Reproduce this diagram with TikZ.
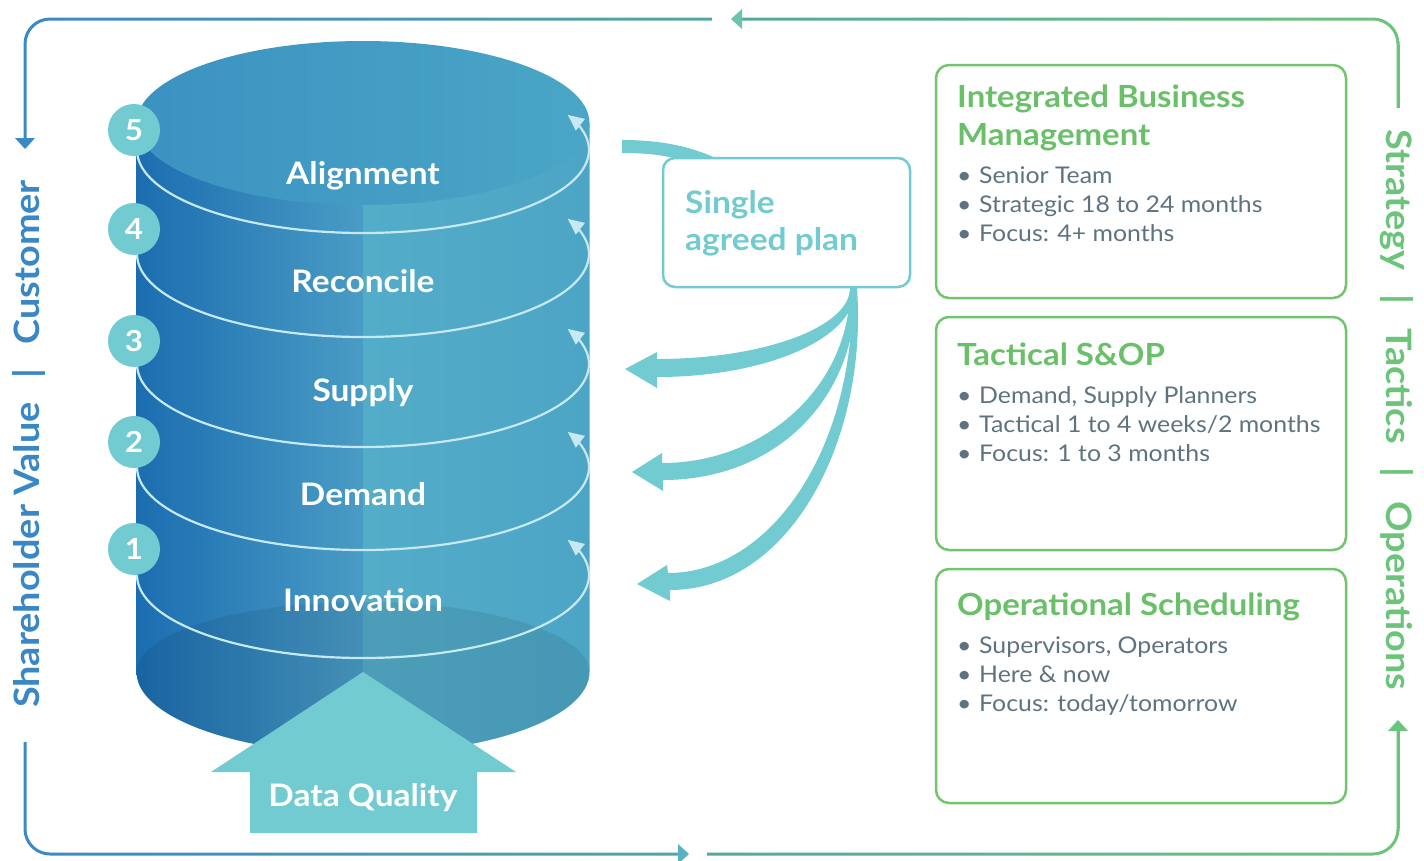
\documentclass[tikz,border=0pt]{standalone}
\usepackage{fontspec}
\setmainfont{Lato}[FakeStretch=1.08]
\usetikzlibrary{arrows.meta}
\definecolor{tealc}{HTML}{72CBD0}
\definecolor{hgreen}{HTML}{6ABF69}
\definecolor{boxgreen}{HTML}{72C46E}
\definecolor{bodygray}{HTML}{5E7380}
\definecolor{lblue}{HTML}{3A87C5}
\definecolor{rgreen}{HTML}{6CC47A}
\definecolor{frameblue}{HTML}{3B8AC6}
\definecolor{frameteal}{HTML}{66C4C0}
\definecolor{framegreen}{HTML}{6CC47C}
\definecolor{topteal}{HTML}{6CC4B0}
\definecolor{cylA}{HTML}{1B6DB0}
\definecolor{cylB}{HTML}{4A9CC5}
\definecolor{cylC}{HTML}{53ACC8}
\definecolor{cylD}{HTML}{4CA5C5}
\definecolor{topA}{HTML}{3B92C1}
\definecolor{topB}{HTML}{4BA9C8}
\definecolor{topC}{HTML}{4AA6C6}
\definecolor{ringc}{HTML}{C6E9F3}
\tikzset{
  cyllbl/.style={text=white, font=\bfseries\fontsize{31}{36}\selectfont, inner sep=0, anchor=base},
  numc/.style={circle, fill=tealc, minimum size=52pt, inner sep=0, text=white, font=\bfseries\fontsize{29}{32}\selectfont},
  ringarc/.style={draw=ringc, line width=2.2pt},
  gbox/.style={draw=boxgreen, line width=2.5pt, rounded corners=13pt},
  headtxt/.style={text=hgreen, font=\bfseries\fontsize{30.5}{34}\selectfont, inner sep=0, anchor=base west},
  bultxt/.style={text=bodygray, font=\fontsize{23}{27}\selectfont, inner sep=0, anchor=base west},
  plantxt/.style={text=tealc, font=\bfseries\fontsize{31}{36}\selectfont, inner sep=0, anchor=base west}
}
\newcommand{\bl}[1]{\makebox[22pt][l]{\textbullet}#1}
\begin{document}
\begin{tikzpicture}[x=1pt,y=-1pt]
\useasboundingbox (0,0) rectangle (1424,860);
% outer frame
\shade[left color=frameblue, middle color=frameteal, right color=framegreen, even odd rule]
  [rounded corners=26.5pt] (23.5,17.5) rectangle (1399.5,855.5)
  [rounded corners=23.5pt] (26.5,20.5) rectangle (1396.5,852.5);
% gaps in frame
\fill[white] (18,138) rectangle (33,742);
\fill[white] (712,12) rectangle (742,26);
\fill[white] (678,846) rectangle (707,862);
\fill[white] (1391,108) rectangle (1406,731);
% frame arrowheads
\fill[frameblue] (15,138) -- (35,138) -- (25,149) -- cycle;
\fill[topteal] (742,9) -- (742,29) -- (731,19) -- cycle;
\fill[frameteal!70!frameblue] (678,844) -- (678,864) -- (689,854) -- cycle;
\fill[framegreen] (1388,731) -- (1408,731) -- (1398,720) -- cycle;
% side labels
\node[font=\bfseries\fontsize{35}{40}\selectfont, text=lblue, rotate=90, inner sep=0] (sv) at (29,444) {Shareholder Value\hspace{24pt}|\hspace{24pt}Customer};
\node[font=\bfseries\fontsize{35}{40}\selectfont, text=rgreen, rotate=-90, inner sep=0] (st) at (1397,410) {Strategy\hspace{24pt}|\hspace{24pt}Tactics\hspace{24pt}|\hspace{24pt}Operations};
% cylinder body
\begin{scope}
  \clip (136.5,123) -- (136.5,672) arc[start angle=180, end angle=0, x radius=226.5, y radius=82] -- (589.5,123) -- cycle;
  \shade[left color=cylA, right color=cylB] (136,40) rectangle (363,760);
  \shade[left color=cylC, right color=cylD] (363,40) rectangle (591,760);
  \fill[black, opacity=0.08] (136.5,672) arc[start angle=180, end angle=360, x radius=226.5, y radius=70] -- (589.5,800) -- (136.5,800) -- cycle;
\end{scope}
% top face
\shade[left color=topA, middle color=topB, right color=topC] (363,123) ellipse[x radius=226.5, y radius=82];
% rings with arrowheads
\foreach \c in {150,254,364,467,575}{
  \draw[ringarc] (137,\c) arc[start angle=180, end angle=-21, x radius=226, y radius=83];
  \fill[ringc] (567.8,{\c-35.1}) -- (585,{\c-31.1}) -- (575.8,{\c-19.3}) -- cycle;
}
% number circles
\node[numc] (n5) at (134,130) {5};
\node[numc] (n4) at (134,229) {4};
\node[numc] (n3) at (134,341) {3};
\node[numc] (n2) at (134,442) {2};
\node[numc] (n1) at (134,549) {1};
% layer labels
\node[cyllbl] (l5) at (363,184) {Alignment};
\node[cyllbl] (l4) at (363,292) {Reconcile};
\node[cyllbl] (l3) at (363,401) {Supply};
\node[cyllbl] (l2) at (363,505) {Demand};
\node[cyllbl] (l1) at (363,611) {Innovation};
% data quality arrow
\fill[tealc] (363,672) -- (516,772) -- (477,772) -- (477,833) -- (250,833) -- (250,772) -- (211,772) -- cycle;
\node[cyllbl] (dq) at (363,806) {Data Quality};
% band into plan box
\fill[tealc] (622,140) .. controls (665,140) and (695,148) .. (720,160) -- (705,172) .. controls (685,158) and (660,153) .. (622,153) -- cycle;
% plan box
\draw[draw=tealc, line width=2.5pt, rounded corners=12pt, fill=white] (663,158) rectangle (910,287);
\node[plantxt] (pl1) at (685,213) {Single};
\node[plantxt] (pl2) at (685,250) {agreed plan};
% curved arrows
\fill[tealc] (850,288) .. controls (850,327) and (764,359) .. (657,359) -- (657,352) -- (625,369) -- (657,388) -- (657,377) .. controls (765,377) and (855,339) .. (855,290) -- cycle;
\fill[tealc] (850,288) .. controls (850,385) and (766,463) .. (662,463) -- (662,453) -- (632,472) -- (663,491) -- (663,480) .. controls (775,480) and (857,400) .. (856,288) -- cycle;
\fill[tealc] (852,288) .. controls (856,446) and (772,573) .. (668,573) -- (667,565) -- (637,584) -- (670,601) -- (670,590) .. controls (790,590) and (868,440) .. (857,288) -- cycle;
% right boxes
\draw[gbox] (936,65) rectangle (1346,298);
\node[headtxt] (h1a) at (957,107) {Integrated Business};
\node[headtxt] (h1b) at (957,145) {Management};
\node[bultxt] (b11) at (957,183) {\bl{Senior Team}};
\node[bultxt] (b12) at (957,212) {\bl{Strategic 18 to 24 months}};
\node[bultxt] (b13) at (957,241) {\bl{Focus: 4+ months}};
\draw[gbox] (936,317) rectangle (1346,550);
\node[headtxt] (h2) at (957,365) {Tactical S\&OP};
\node[bultxt] (b21) at (957,403) {\bl{Demand, Supply Planners}};
\node[bultxt] (b22) at (957,432) {\bl{Tactical 1 to 4 weeks/2 months}};
\node[bultxt] (b23) at (957,461) {\bl{Focus: 1 to 3 months}};
\draw[gbox] (936,569) rectangle (1346,803);
\node[headtxt] (h3) at (957,615) {Operational Scheduling};
\node[bultxt] (b31) at (957,653) {\bl{Supervisors, Operators}};
\node[bultxt] (b32) at (957,682) {\bl{Here \& now}};
\node[bultxt] (b33) at (957,711) {\bl{Focus: today/tomorrow}};
\end{tikzpicture}
\end{document}
